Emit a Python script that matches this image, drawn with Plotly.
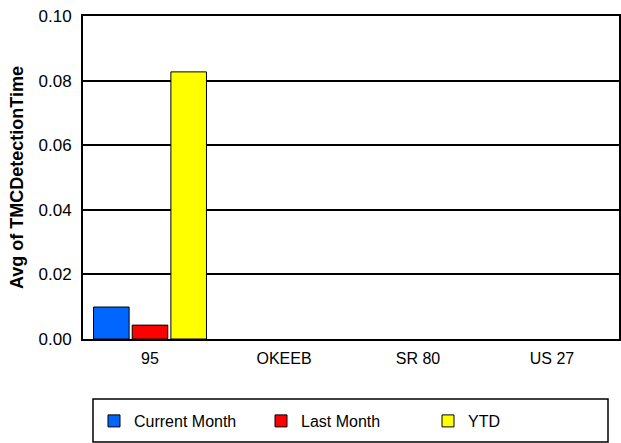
import plotly.graph_objects as go

categories = ["95", "OKEEB", "SR 80", "US 27"]
current_month = [0.0099, None, None, None]
last_month = [0.0043, None, None, None]
ytd = [0.0827, None, None, None]
y_ticks = [0.0, 0.02, 0.04, 0.06, 0.08, 0.10]

FONT = "Liberation Sans, Arial, sans-serif"

# plot area in pixels: x 83..619, y 16..339
PW, PH = 536.0, 323.0

def px_x(x):
    return (x - 83) / PW

def px_y(y):
    return (339 - y) / PH

fig = go.Figure()
for name, vals, color in [
    ("Current Month", current_month, "#0066FF"),
    ("Last Month", last_month, "#FF0000"),
    ("YTD", ytd, "#FFFF00"),
]:
    fig.add_trace(go.Bar(
        x=categories, y=vals, name=name,
        marker=dict(color=color, line=dict(color="black", width=1)),
    ))

fig.update_layout(
    width=621, height=443,
    margin=dict(l=83, r=2, t=16, b=104),
    paper_bgcolor="white", plot_bgcolor="white",
    font=dict(family=FONT, size=16, color="black"),
    barmode="group", bargap=0.134, bargroupgap=0.08,
    showlegend=True,
    legend=dict(
        orientation="h", x=px_x(94), y=px_y(421), xanchor="left", yanchor="middle",
        borderwidth=0, bgcolor="rgba(0,0,0,0)",
        font=dict(family=FONT, size=16),
        entrywidth=122, entrywidthmode="pixels",
        traceorder="normal",
    ),
    shapes=[dict(
        type="rect", xref="paper", yref="paper",
        x0=px_x(93), x1=px_x(608), y0=px_y(399), y1=px_y(442),
        line=dict(color="black", width=1.5), fillcolor="rgba(0,0,0,0)", layer="below",
    )],
)
fig.update_xaxes(
    type="category", categoryorder="array", categoryarray=categories,
    showline=True, linecolor="black", linewidth=2, mirror=True,
    ticks="outside", ticklen=4, tickcolor="white",
    showgrid=False, tickfont=dict(size=16), automargin=False,
)
fig.update_yaxes(
    range=[0, 0.1], tickvals=y_ticks, tickformat=".2f",
    showline=True, linecolor="black", linewidth=2, mirror=True,
    showgrid=True, gridcolor="black", gridwidth=1.5,
    ticks="outside", ticklen=6, tickcolor="white",
    zeroline=False, tickfont=dict(size=17), automargin=False,
    title=dict(text="<b>Avg of TMCDetectionTime</b>", font=dict(size=18), standoff=10),
)

fig.write_html(
    "out.html",
    config={"displayModeBar": False},
    post_script="document.body.style.margin='0';document.body.style.padding='0';",
)
